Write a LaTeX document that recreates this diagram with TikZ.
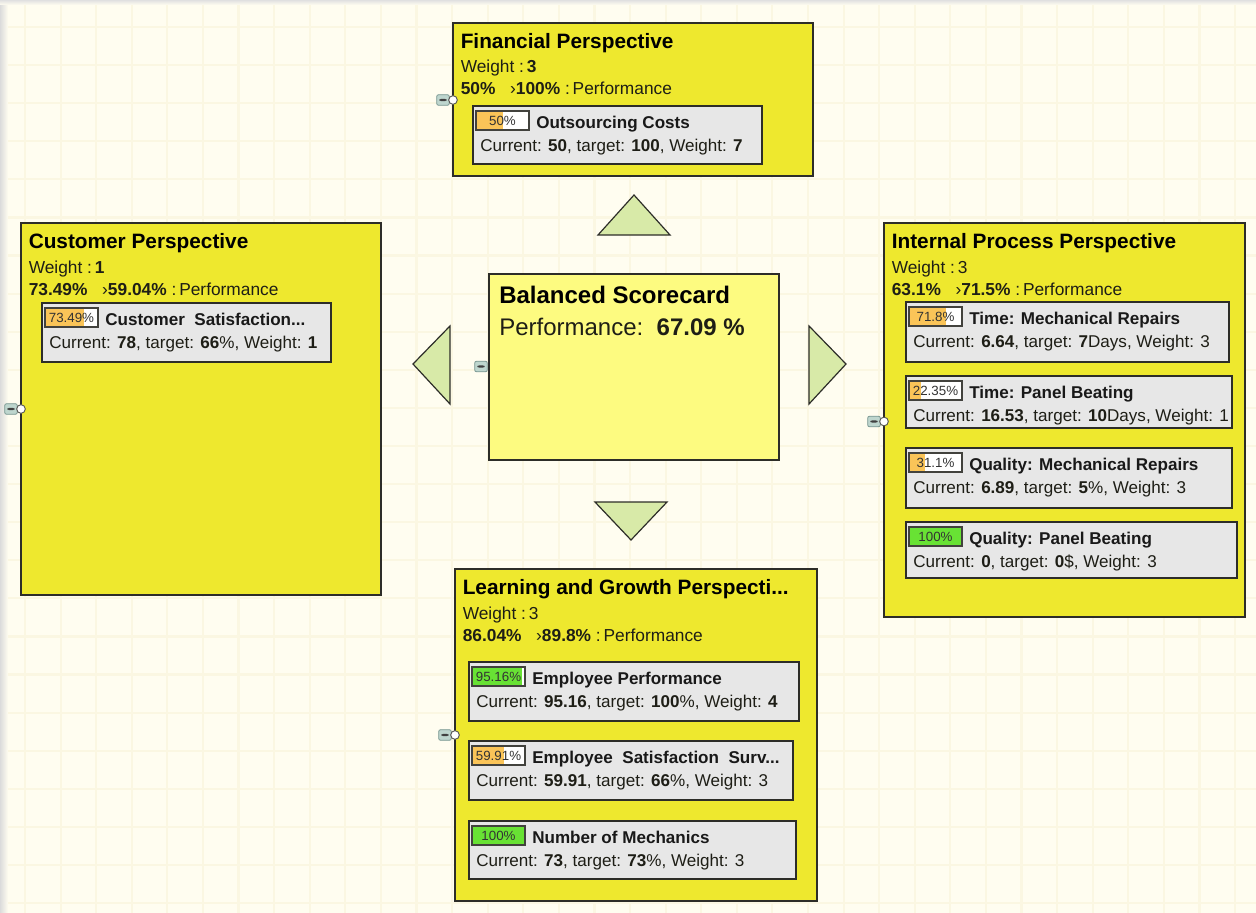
\documentclass[tikz,border=0pt]{standalone}
\usepackage{fontspec}
\setmainfont{Liberation Sans}
\usetikzlibrary{fit}

\definecolor{canvas}{RGB}{255,253,240}
\definecolor{gridc}{RGB}{251,247,226}
\definecolor{perspfill}{RGB}{238,232,46}
\definecolor{corefill}{RGB}{253,251,128}
\definecolor{kpifill}{RGB}{231,231,231}
\definecolor{pointerfill}{RGB}{216,234,168}
\definecolor{edge}{RGB}{45,45,40}
\definecolor{barorange}{RGB}{250,196,88}
\definecolor{bargreen}{RGB}{104,226,52}
\definecolor{iconfill}{RGB}{190,214,206}
\definecolor{iconedge}{RGB}{120,150,145}
\definecolor{ink}{RGB}{30,30,22}

\tikzset{
  perspbox/.style={draw=edge, line width=1.2pt, fill=perspfill, inner sep=0pt, outer sep=0pt},
  corebox/.style={draw=edge, line width=1.1pt, fill=corefill, inner sep=0pt, outer sep=0pt},
  kpibox/.style={draw=edge, line width=1.4pt, fill=kpifill, inner sep=0pt, outer sep=0pt},
  badge/.style={draw=edge!90, line width=0.9pt, fill=white, anchor=north west,
    minimum width=39.75pt, minimum height=14.25pt, inner sep=0pt, outer sep=0pt,
    font=\fontsize{10}{11}\selectfont, text=black!80},
  headtitle/.style={anchor=base west, inner sep=0pt, font=\fontsize{15.6}{18}\selectfont\bfseries, text=black},
  headline/.style={anchor=base west, inner sep=0pt, font=\fontsize{13}{15}\selectfont, text=ink},
  kpititle/.style={anchor=base west, inner sep=0pt, font=\fontsize{12.8}{15}\selectfont\bfseries, text=black!90},
  kpiline/.style={anchor=base west, inner sep=0pt, font=\fontsize{12.8}{15}\selectfont, text=ink},
  coretitle/.style={anchor=base west, inner sep=0pt, font=\fontsize{18}{21}\selectfont\bfseries, text=black},
  coreline/.style={anchor=base west, inner sep=0pt, font=\fontsize{18}{21}\selectfont, text=ink},
  pointer/.style={draw=edge, line width=0.9pt, fill=pointerfill, line join=miter},
  gridline/.style={draw=gridc, line width=1.6pt},
  collapse/.style={draw=iconedge, line width=0.6pt, fill=iconfill, rounded corners=1.5pt,
    minimum width=9.5pt, minimum height=8pt, inner sep=0pt,
    path picture={\fill[black!75] ([xshift=-2.8pt,yshift=-0.85pt]path picture bounding box.center)
      rectangle ([xshift=2.8pt,yshift=0.85pt]path picture bounding box.center);}},
  knob/.style={circle, draw=edge!80, line width=0.7pt, fill=white, minimum size=6.5pt, inner sep=0pt}
}

% one perspective panel: name, NW corner, SE corner, title, weight, performance, knob offset
\newcommand{\perspective}[7]{%
  \node[perspbox, fit={#2 #3}] (#1) {};
  \node[headtitle] (#1-title) at ([shift={(7.5,25.5)}]#1.north west) {#4};
  \node[headline] (#1-weight) at ([shift={(7.5,50)}]#1.north west) {#5};
  \node[headline] (#1-perf) at ([shift={(7.5,72)}]#1.north west) {#6};
  \node[collapse] (#1-icon) at ([shift={(-10,#7)}]#1.north west) {};
  \node[knob] (#1-knob) at ([shift={(0,#7)}]#1.north west) {};
}

% one measure: name, NW corner, SE corner, bar fraction, bar colour, badge text, title, figures
\newcommand{\measure}[8]{%
  \node[kpibox, fit={#2 #3}] (#1) {};
  \node[badge, path picture={\fill[#5] (path picture bounding box.north west)
      rectangle ([xshift=#4*39.75pt]path picture bounding box.south west);}]
    (#1-badge) at ([shift={(3,5)}]#1.north west) {#6};
  \node[kpititle] (#1-title) at ([shift={(63,22.5)}]#1.north west) {#7};
  \node[kpiline] (#1-line) at ([shift={(7,45.5)}]#1.north west) {#8};
}

\begin{document}
\begin{tikzpicture}[x=0.75pt, y=-0.75pt]
\useasboundingbox (0,0) rectangle (1256,913);

% canvas and its grid
\fill[canvas] (0,0) rectangle (1256,913);
\foreach \i in {0,...,34} \draw[gridline] ({25+35.59*\i},0) -- ({25+35.59*\i},913);
\foreach \j in {0,...,23} \draw[gridline] (0,{27+38.09*\j}) -- (1256,{27+38.09*\j});
\shade[left color=black!14, right color=canvas] (0,0) rectangle (8,913);
\shade[top color=black!12, bottom color=canvas] (0,0) rectangle (1256,5);

% direction pointers round the scorecard
\draw[pointer] (598,235) -- (670,235) -- (634,195) -- cycle;
\draw[pointer] (450,326) -- (450,404) -- (413,364) -- cycle;
\draw[pointer] (809,326) -- (809,404) -- (846,364) -- cycle;
\draw[pointer] (595,502) -- (667,502) -- (631,540) -- cycle;

% the scorecard itself
\node[corebox, fit={(489,274) (779,460)}] (core) {};
\node[coretitle] (core-title) at ([shift={(10,29.3)}]core.north west) {Balanced Scorecard};
\node[coreline] (core-perf) at ([shift={(10,61)}]core.north west) {Performance:\ \ \textbf{67.09 \%}};
\node[collapse] (core-icon) at ([shift={(-8,92.5)}]core.north west) {};

% financial
\perspective{fin}{(453,23)}{(813,176)}{Financial Perspective}
  {Weight :\,\textbf{3}}{\textbf{50\%}\hspace{11pt}›\textbf{100\%} :\,Performance}{77}
\measure{fin1}{(473,106)}{(762,164)}{0.5}{barorange}{50\%}{Outsourcing Costs}
  {Current: \textbf{50}, target: \textbf{100}, Weight: \textbf{7}}

% customer
\perspective{cus}{(21,223)}{(381,595)}{Customer Perspective}
  {Weight :\,\textbf{1}}{\textbf{73.49\%}\hspace{11pt}›\textbf{59.04\%} :\,Performance}{186}
\measure{cus1}{(42,303)}{(331,362)}{0.74}{barorange}{73.49\%}{Customer\ \ Satisfaction...}
  {Current: \textbf{78}, target: \textbf{66}\%, Weight: \textbf{1}}

% internal process
\perspective{ipp}{(884,223)}{(1245,617)}{Internal Process Perspective}
  {Weight :\,3}{\textbf{63.1\%}\hspace{11pt}›\textbf{71.5\%} :\,Performance}{198.5}
\measure{ipp1}{(906,302)}{(1229,362)}{0.7}{barorange}{71.8\%}{Time: Mechanical Repairs}
  {Current: \textbf{6.64}, target: \textbf{7}Days, Weight: 3}
\measure{ipp2}{(906,376)}{(1232,428)}{0.22}{barorange}{22.35\%}{Time: Panel Beating}
  {Current: \textbf{16.53}, target: \textbf{10}Days, Weight: 1}
\measure{ipp3}{(906,448)}{(1232,508)}{0.31}{barorange}{31.1\%}{Quality: Mechanical Repairs}
  {Current: \textbf{6.89}, target: \textbf{5}\%, Weight: 3}
\measure{ipp4}{(906,522)}{(1237,578)}{1}{bargreen}{100\%}{Quality: Panel Beating}
  {Current: \textbf{0}, target: \textbf{0}\$, Weight: 3}

% learning and growth
\perspective{lag}{(455,569)}{(817,901)}{Learning and Growth Perspecti...}
  {Weight :\,3}{\textbf{86.04\%}\hspace{11pt}›\textbf{89.8\%} :\,Performance}{166}
\measure{lag1}{(469,662)}{(799,721)}{0.95}{bargreen}{95.16\%}{Employee Performance}
  {Current: \textbf{95.16}, target: \textbf{100}\%, Weight: \textbf{4}}
\measure{lag2}{(469,741)}{(793,800)}{0.6}{barorange}{59.91\%}{Employee\ \ Satisfaction\ \ Surv...}
  {Current: \textbf{59.91}, target: \textbf{66}\%, Weight: 3}
\measure{lag3}{(469,821)}{(796,879)}{1}{bargreen}{100\%}{Number of Mechanics}
  {Current: \textbf{73}, target: \textbf{73}\%, Weight: 3}
\end{tikzpicture}
\end{document}
